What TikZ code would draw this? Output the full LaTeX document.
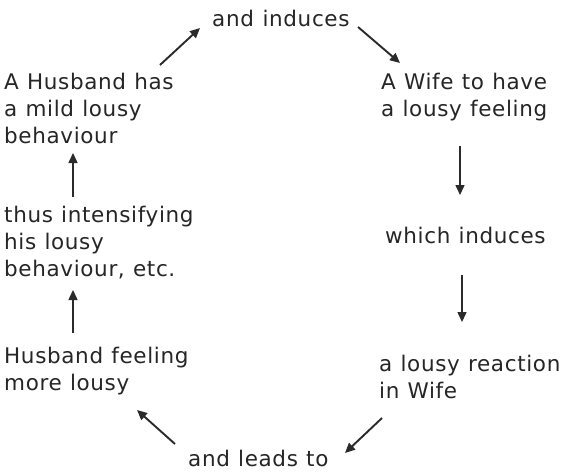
\documentclass[tikz,border=0pt]{standalone}
\usepackage{fontspec}
\setmainfont{DejaVu Sans}[LetterSpace=3,WordSpace=1.1]
\usetikzlibrary{arrows.meta}
\definecolor{txt}{HTML}{262626}
\definecolor{arr}{HTML}{2A2A2A}
\begin{document}
\begin{tikzpicture}[x=1pt,y=-1pt,
  lbl/.style={anchor=base west,inner sep=0pt,align=left,text=txt,
    font=\fontsize{21.5}{27}\selectfont},
  arrowline/.style={draw=arr,line width=1.9pt,-{Triangle[length=10pt,width=9pt]}}]
\useasboundingbox[fill=white] (0,0) rectangle (564,471);
\node[lbl] (induces) at (212,26) {and\hspace{0.4em}induces};
\node[lbl] (husband) at (4,143) {A Husband has\\a mild lousy\\behaviour};
\node[lbl] (wife) at (381,116) {A Wife to have\\a lousy feeling};
\node[lbl] (which) at (385,243) {which induces};
\node[lbl] (reaction) at (379,398) {a lousy reaction\\in Wife};
\node[lbl] (leads) at (188,466) {and leads to};
\node[lbl] (feeling) at (4,390) {Husband feeling\\more lousy};
\node[lbl] (thus) at (4,276) {thus intensifying\\his lousy\\behaviour, etc.};
\coordinate (a1s) at (160,65); \coordinate (a1e) at (200,28);
\coordinate (a2s) at (358,27); \coordinate (a2e) at (400,63);
\coordinate (a3s) at (460,146); \coordinate (a3e) at (460,195);
\coordinate (a4s) at (462,275); \coordinate (a4e) at (462,322);
\coordinate (a5s) at (382,418); \coordinate (a5e) at (345,453);
\coordinate (a6s) at (175,444); \coordinate (a6e) at (137,410);
\coordinate (a7s) at (73,333); \coordinate (a7e) at (73,290);
\coordinate (a8s) at (73,197); \coordinate (a8e) at (73,153);
\draw[arrowline] (a1s) -- (a1e);
\draw[arrowline] (a2s) -- (a2e);
\draw[arrowline,line width=1.5pt] (a3s) -- (a3e);
\draw[arrowline,line width=1.5pt] (a4s) -- (a4e);
\draw[arrowline] (a5s) -- (a5e);
\draw[arrowline] (a6s) -- (a6e);
\draw[arrowline,line width=1.5pt] (a7s) -- (a7e);
\draw[arrowline,line width=1.5pt] (a8s) -- (a8e);
\end{tikzpicture}
\end{document}
